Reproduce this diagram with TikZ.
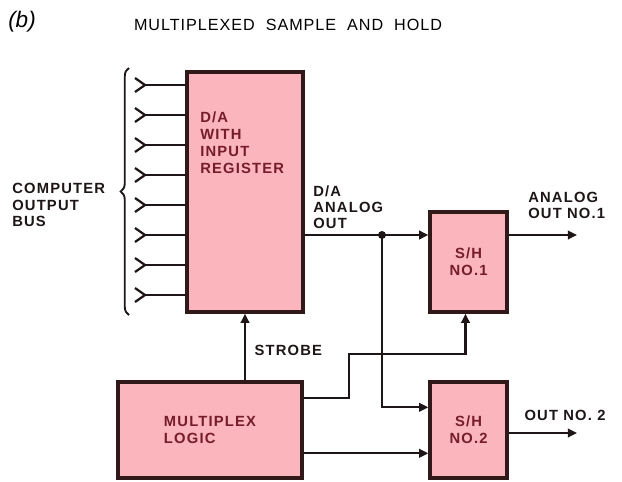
\documentclass[tikz,border=0pt]{standalone}
\usepackage{fontspec}
\setmainfont{Liberation Sans}
\newfontfamily\diagfont[LetterSpace=8]{Liberation Sans}
\newfontfamily\titlefont[LetterSpace=6]{Liberation Sans}
\usetikzlibrary{arrows.meta,calc,decorations.pathreplacing}
\definecolor{boxpink}{RGB}{250,182,188}
\definecolor{boxedge}{RGB}{50,25,25}
\definecolor{boxink}{RGB}{118,28,42}
\definecolor{lineink}{RGB}{30,22,22}

\begin{document}
\begin{tikzpicture}[
  x=0.025cm, y=-0.025cm,
  block/.style={draw=boxedge, fill=boxpink, line width=2.4pt, inner sep=0pt, font=\diagfont\fontsize{10.5}{12}\selectfont\bfseries, text=boxink, align=left},
  boxtext/.style={font=\diagfont\fontsize{10.5}{12}\selectfont\bfseries, text=boxink, align=left, inner sep=0pt},
  tag/.style={font=\diagfont\fontsize{10.5}{11.5}\selectfont\bfseries, text=lineink, align=left, inner sep=0pt},
  wire/.style={draw=lineink, line width=1.6pt},
  >={Triangle[length=6.5pt,width=6pt]}
]
  \useasboundingbox (0,0) rectangle (622,481);

  \node[font=\fontsize{16}{16}\selectfont\itshape] (fig) at (22,22) {(b)};
  \node[font=\titlefont\fontsize{11.5}{12}\selectfont] (title) at (288,25) {MULTIPLEXED\ \ SAMPLE\ \ AND\ \ HOLD};

  % blocks
  \node[block, minimum width=2.9cm, minimum height=6cm] (da) at (245,192) {};
  \node[boxtext, anchor=north west] (datext) at (200,112) {D/A\\WITH\\INPUT\\REGISTER};
  \node[block, minimum width=1.925cm, minimum height=2.5cm, align=center] (sh1) at (468.5,262) {S/H\\NO.1};
  \node[block, minimum width=1.925cm, minimum height=2.4cm, align=center] (sh2) at (468.5,430) {S/H\\NO.2};
  \node[block, minimum width=4.6cm, minimum height=2.4cm] (ml) at (210,430) {MULTIPLEX\\LOGIC};

  % input bus
  \foreach \i in {0,...,7}{
    \coordinate (in\i) at (145,85+30*\i);
    \draw[wire, line join=miter] ($(in\i)+(-10,-7)$) -- (in\i) -- ($(in\i)+(-10,7)$);
    \draw[wire] (in\i) -- (in\i -| da.west);
  }
  \draw[wire, line width=1.3pt, decorate, decoration={brace, amplitude=6pt}] (129,315) -- (129,68);
  \node[tag, anchor=west] (bus) at (12,205) {COMPUTER\\OUTPUT\\BUS};

  % analog path
  \coordinate (dot) at (382,235);
  \fill[lineink] (dot) circle (4);
  \draw[wire] (da.east |- dot) -- (dot);
  \draw[wire, ->] (dot) -- (sh1.west |- dot);
  \node[tag, anchor=south west] (daout) at (313,229) {D/A\\ANALOG\\OUT};
  \coordinate (out1) at (577,235);
  \draw[wire, ->] (sh1.east |- out1) -- (out1);
  \node[tag, anchor=south west] (out1lab) at (528,219) {ANALOG\\OUT NO.1};
  \draw[wire, ->] (dot) |- ($(sh2.north west)+(0,27)$);

  % control
  \draw[wire, ->] (da.south |- ml.north) -- node[tag, right=6pt, pos=0.45] (strobe) {STROBE} (da.south);
  \draw[wire, ->] ($(ml.north east)+(0,18)$) -- ++(45,0) |- ($(sh1.south)+(-3,40)$) -- ($(sh1.south)+(-3,0)$);
  \draw[wire, ->] ($(ml.north east)+(0,73)$) -- ($(sh2.north west)+(0,73)$);
  \coordinate (out2) at (577,433);
  \draw[wire, ->] (sh2.east |- out2) -- (out2);
  \node[tag] (out2lab) at (565,415) {OUT NO. 2};
\end{tikzpicture}
\end{document}
